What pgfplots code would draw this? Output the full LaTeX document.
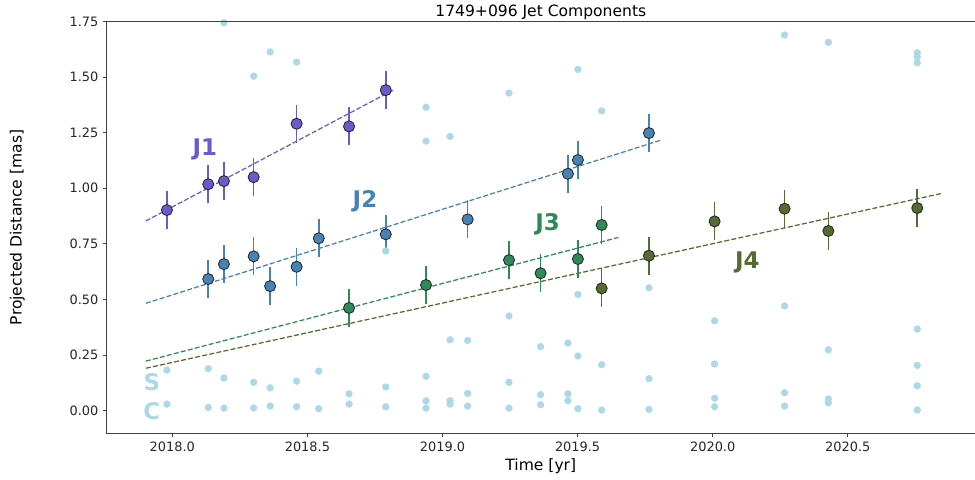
\documentclass[border=0pt]{standalone}
\usepackage{fontspec}
\setmainfont{DejaVu Sans}
\usepackage{pgfplots}
\pgfplotsset{compat=1.18}
\usepackage{pgfplotstable}

\definecolor{jone}{HTML}{6A5ACD}
\definecolor{jtwo}{HTML}{4682B4}
\definecolor{jthree}{HTML}{2E8B57}
\definecolor{jfour}{HTML}{556B2F}
\definecolor{lb}{HTML}{ADD8E6}
\definecolor{spine}{HTML}{404040}

% core (C), stationary (S) and other fitted components
\pgfplotstableread{
t d
2017.980 0.183
2017.980 0.030
2018.133 0.189
2018.133 0.015
2018.191 1.744
2018.191 0.147
2018.191 0.012
2018.301 1.504
2018.301 0.128
2018.301 0.012
2018.362 1.613
2018.362 0.103
2018.362 0.021
2018.460 1.567
2018.460 0.133
2018.460 0.018
2018.542 0.178
2018.542 0.009
2018.654 0.076
2018.654 0.030
2018.790 0.718
2018.790 0.107
2018.790 0.018
2018.939 1.364
2018.939 1.212
2018.939 0.155
2018.939 0.044
2018.939 0.012
2019.028 1.770
2019.028 1.233
2019.028 0.319
2019.028 0.045
2019.028 0.030
2019.093 0.316
2019.093 0.078
2019.093 0.021
2019.246 1.428
2019.246 0.426
2019.246 0.128
2019.246 0.012
2019.363 0.288
2019.363 0.072
2019.363 0.027
2019.464 0.304
2019.464 0.076
2019.464 0.045
2019.501 1.534
2019.501 0.523
2019.501 0.246
2019.501 0.009
2019.589 1.348
2019.589 0.207
2019.589 0.003
2019.764 0.553
2019.764 0.144
2019.764 0.006
2020.007 0.404
2020.007 0.210
2020.007 0.056
2020.007 0.018
2020.266 1.689
2020.266 0.471
2020.266 0.081
2020.266 0.021
2020.428 1.656
2020.428 0.274
2020.428 0.053
2020.428 0.036
2020.757 1.609
2020.757 1.591
2020.757 1.564
2020.757 0.367
2020.757 0.204
2020.757 0.112
2020.757 0.003
}\others

\pgfplotstableread{
t d e
2017.980 0.902 0.085
2018.133 1.018 0.085
2018.191 1.032 0.085
2018.301 1.050 0.085
2018.460 1.290 0.085
2018.654 1.278 0.085
2018.790 1.441 0.085
}\jone

\pgfplotstableread{
t d e
2018.133 0.592 0.085
2018.191 0.659 0.085
2018.301 0.694 0.085
2018.362 0.560 0.085
2018.460 0.647 0.085
2018.542 0.775 0.085
2018.790 0.793 0.085
2019.093 0.860 0.085
2019.464 1.065 0.085
2019.501 1.127 0.085
2019.764 1.248 0.085
}\jtwo

\pgfplotstableread{
t d e
2018.654 0.462 0.085
2018.939 0.565 0.085
2019.246 0.677 0.085
2019.363 0.618 0.085
2019.501 0.682 0.085
2019.589 0.835 0.085
}\jthree

\pgfplotstableread{
t d e
2019.589 0.550 0.085
2019.764 0.697 0.085
2020.007 0.851 0.085
2020.266 0.908 0.085
2020.428 0.808 0.085
2020.757 0.911 0.085
}\jfour

\pgfplotsset{
  jet/.style={only marks, mark=*, mark size=4pt,
    mark options={fill=#1, draw=black!85, line width=0.6pt},
    error bars/.cd, y dir=both, y explicit, error mark=none,
    error bar style={#1, line width=1.1pt}},
  fit/.style={#1, line width=0.9pt, dash pattern=on 3.6pt off 1.6pt},
}

\begin{document}
\begin{tikzpicture}
% the frame runs a little past the right edge of the page, so its right side is cut off
\begin{axis}[
  at={(0,0)}, anchor=south west,
  scale only axis, width=627pt, height=296.6pt,
  xmin=2017.757, xmax=2020.980, ymin=-0.1016, ymax=1.75,
  axis line style={draw=spine, line width=0.8pt},
  tick pos=left, tick align=outside,
  major tick length=2.5pt,
  every tick/.style={spine, line width=0.6pt},
  xtick={2018,2018.5,...,2020.5},
  ytick={0,0.25,...,1.75},
  /pgf/number format/assume math mode=true,
  xticklabel style={/pgf/number format/.cd, fixed, fixed zerofill, precision=1, 1000 sep={}},
  yticklabel style={/pgf/number format/.cd, fixed, fixed zerofill, precision=2},
  tick label style={font=\fontsize{9.3}{11}\selectfont, text=black!85},
  xlabel={Time [yr]},
  ylabel={Projected Distance [mas]},
  every axis x label/.style={at={(axis description cs:0.5,-0.0794)}, anchor=center,
    xshift=-0.9pt, font=\fontsize{11.2}{13}\selectfont},
  every axis y label/.style={at={(axis description cs:-0.1027,0.5)}, anchor=center,
    rotate=90, font=\fontsize{11.2}{13}\selectfont},
  title={1749+096 Jet Components},
  every axis title/.style={at={(axis description cs:0.5,1.0)}, anchor=base,
    yshift=3.4pt, xshift=-0.9pt, inner sep=0pt, font=\fontsize{11.2}{13}\selectfont},
  clip mode=global,
]
\addplot[only marks, mark=*, mark size=2.4pt, color=lb] table[x=t,y=d]{\others};

\addplot[fit=jone] coordinates {(2017.902,0.853) (2018.817,1.441)};
\addplot[fit=jtwo] coordinates {(2017.902,0.483) (2019.813,1.218)};
\addplot[fit=jthree] coordinates {(2017.902,0.223) (2019.651,0.779)};
\addplot[fit=jfour] coordinates {(2017.902,0.191) (2020.848,0.977)};

\addplot[jet=jone] table[x=t,y=d,y error=e]{\jone};
\addplot[jet=jtwo] table[x=t,y=d,y error=e]{\jtwo};
\addplot[jet=jthree] table[x=t,y=d,y error=e]{\jthree};
\addplot[jet=jfour] table[x=t,y=d,y error=e]{\jfour};

\begin{scope}[every node/.style={font=\fontsize{16.5}{19}\selectfont\bfseries, anchor=center}]
\node[text=jone] at (axis cs:2018.120,1.175) {J1};
\node[text=jtwo] at (axis cs:2018.713,0.940) {J2};
\node[text=jthree] at (axis cs:2019.389,0.838) {J3};
\node[text=jfour] at (axis cs:2020.128,0.666) {J4};
\node[text=lb] at (axis cs:2017.924,0.128) {S};
\node[text=lb] at (axis cs:2017.924,0.000) {C};
\end{scope}
\end{axis}
% top edge of the frame, drawn again on top of the clipped marks
\draw[spine, line width=1.1pt] (-0.4pt,296.6pt) -- (627pt,296.6pt);
\pgfresetboundingbox
\useasboundingbox (-76.8pt,-33.6pt) rectangle (625.2pt,312pt);
\end{tikzpicture}
\end{document}
